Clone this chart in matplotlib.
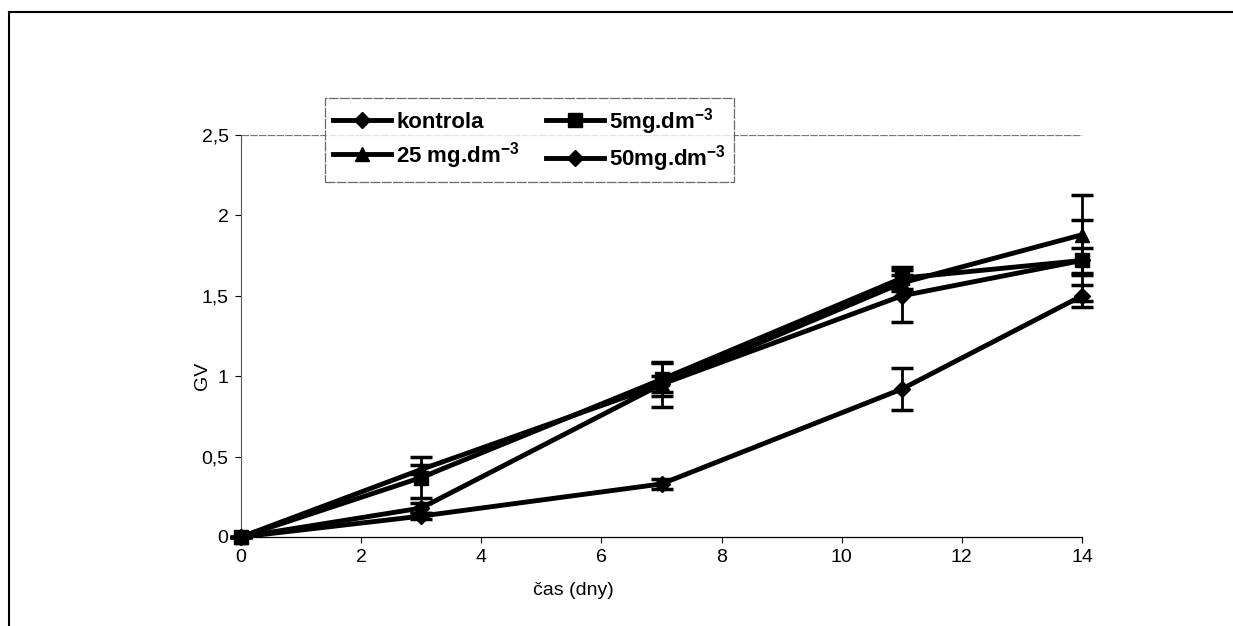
import matplotlib.pyplot as plt
from matplotlib.lines import Line2D

plt.rcParams['font.family'] = ['Liberation Sans', 'DejaVu Sans']
plt.rcParams['mathtext.default'] = 'regular'

days = [0, 3, 7, 11, 14]
series = ['kontrola', '5mg.dm$^{-3}$', '25 mg.dm$^{-3}$', '50mg.dm$^{-3}$']
kontrola = [0, 0.18, 0.95, 1.50, 1.72]
kontrola_err = [0, 0.03, 0.14, 0.16, 0.25]
mg5 = [0, 0.37, 0.98, 1.61, 1.72]
mg5_err = [0, 0.13, 0.10, 0.07, 0.08]
mg25 = [0, 0.42, 0.95, 1.58, 1.88]
mg25_err = [0, 0.03, 0.05, 0.05, 0.25]
mg50 = [0, 0.13, 0.33, 0.92, 1.50]
mg50_err = [0, 0.02, 0.03, 0.13, 0.07]

values = [kontrola, mg5, mg25, mg50]
errors = [kontrola_err, mg5_err, mg25_err, mg50_err]
markers = ['D', 's', '^', 'D']
msizes = [8, 10, 10, 8]

fig = plt.figure(figsize=(12.33, 6.26), dpi=100)
ax = fig.add_axes([0.1955, 0.1422, 0.682, 0.642])

for i in range(4):
    ax.errorbar(days, values[i], yerr=errors[i], color='black', lw=3.5,
                marker=markers[i], markersize=msizes[i], ecolor='black',
                elinewidth=2, capsize=8, capthick=2.5, clip_on=False,
                zorder=3)

ax.set_xlim(0, 14)
ax.set_ylim(0, 2.5)
ax.set_xticks(range(0, 15, 2))
ax.set_yticks([0, 0.5, 1, 1.5, 2, 2.5])
ax.set_yticklabels(['0', '0,5', '1', '1,5', '2', '2,5'])
ax.tick_params(labelsize=14, length=4, width=0.8, pad=5)
ax.axhline(2.5, color='#777777', lw=0.9, ls=(0, (6, 1)), zorder=1)

for s in ['top', 'right']:
    ax.spines[s].set_visible(False)
ax.spines['left'].set_color('#555555')
ax.spines['left'].set_linewidth(0.8)
ax.spines['bottom'].set_linewidth(0.9)

ax.set_xlabel('čas (dny)', fontsize=14)
ax.xaxis.set_label_coords(0.395, -0.112)
ax.set_ylabel('GV', fontsize=14)
ax.yaxis.set_label_coords(-0.036, 0.4)

# legend is filled row by row in the reference
order = [0, 2, 1, 3]
handles = [Line2D([0], [0], color='black', lw=3.5, marker=markers[i],
                  markersize=msizes[i]) for i in order]
labels = [series[i] for i in order]
leg = fig.legend(handles, labels, ncol=2, loc='upper left',
                 bbox_to_anchor=(325 / 1233, 1 - 98 / 626), borderaxespad=0,
                 prop={'size': 16, 'weight': 'bold'}, frameon=True,
                 fancybox=False, handlelength=2.6, handletextpad=0.25,
                 columnspacing=1.2, borderpad=0.35, labelspacing=0.3)
leg.get_frame().set_edgecolor('#444444')
leg.get_frame().set_linewidth(0.9)
leg.get_frame().set_linestyle((0, (8, 1)))

# outer frame (top and left edges visible)
fig.add_artist(Line2D([9 / 1233, 1], [1 - 12 / 626, 1 - 12 / 626],
                      color='black', lw=1.5, transform=fig.transFigure))
fig.add_artist(Line2D([9 / 1233, 9 / 1233], [0, 1 - 12 / 626],
                      color='black', lw=1.5, transform=fig.transFigure))

fig.savefig('out.png', dpi=100)
